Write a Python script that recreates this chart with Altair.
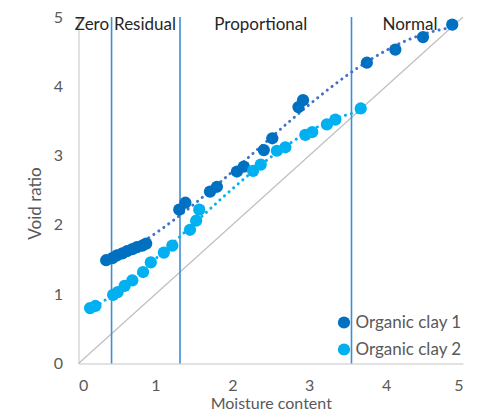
import altair as alt
import pandas as pd

# Organic clay 1 (moisture content, void ratio)
clay1_x = [0.36, 0.44, 0.50, 0.57, 0.63, 0.70, 0.76, 0.83, 0.88, 1.31, 1.39, 1.71, 1.80,
           2.06, 2.15, 2.41, 2.52, 2.86, 2.92, 3.75, 4.12, 4.48, 4.86]
clay1_y = [1.49, 1.52, 1.56, 1.59, 1.62, 1.65, 1.68, 1.70, 1.73, 2.22, 2.32, 2.48, 2.55,
           2.77, 2.84, 3.08, 3.25, 3.70, 3.80, 4.34, 4.53, 4.71, 4.89]
# Organic clay 2
clay2_x = [0.15, 0.22, 0.45, 0.51, 0.60, 0.70, 0.84, 0.94, 1.11, 1.22, 1.45, 1.53, 1.57,
           2.27, 2.37, 2.58, 2.69, 2.95, 3.04, 3.23, 3.34, 3.67]
clay2_y = [0.80, 0.83, 0.99, 1.03, 1.12, 1.20, 1.32, 1.46, 1.60, 1.70, 1.93, 2.06, 2.22,
           2.78, 2.87, 3.07, 3.12, 3.30, 3.34, 3.45, 3.52, 3.68]

series_names = ["Organic clay 1", "Organic clay 2"]
series_colors = ["#0070C0", "#00B0F0"]
trend_colors = ["#4472C4", "#00B0F0"]

zone_bounds = [0.43, 1.32, 3.55]
zone_names = ["Zero", "Residual", "Proportional", "Normal"]
zone_label_x = [0.175, 0.865, 2.37, 4.31]
zone_label_y = [4.81, 4.81, 4.81, 4.81]

diag_x = [0, 5]
diag_y = [0, 5]

pts = pd.DataFrame({
    "x": clay1_x + clay2_x,
    "y": clay1_y + clay2_y,
    "series": [series_names[0]] * len(clay1_x) + [series_names[1]] * len(clay2_x),
})
bounds = pd.DataFrame({"x": zone_bounds})
labels = pd.DataFrame({"x": zone_label_x, "y": zone_label_y, "t": zone_names})
diag = pd.DataFrame({"x": diag_x, "y": diag_y})

FONT = "Lato"
FS = 17
xs = alt.Scale(domain=[0, 5], nice=False)
ys = alt.Scale(domain=[0, 5], nice=False)

xaxis = alt.Axis(values=[0, 1, 2, 3, 4, 5], format="d", title="Moisture content", grid=False,
                 ticks=False, domainColor="#D9D9D9", domainWidth=1.5, labelColor="#595959",
                 labelFontSize=16, labelFont=FONT, labelPadding=14, titleFont=FONT,
                 titleFontSize=16, titleColor="#595959", titleFontWeight="normal",
                 titleBaseline="bottom", titleY=48)
yaxis = alt.Axis(values=[0, 1, 2, 3, 4, 5], format="d", title="Void ratio", grid=False,
                 ticks=False, domainColor="#D9D9D9", domainWidth=1.5, labelColor="#595959",
                 labelFontSize=16, labelFont=FONT, labelPadding=16, titleFont=FONT,
                 titleFontSize=FS, titleColor="#595959", titleFontWeight="normal",
                 titlePadding=9, titleY=186)

diag_layer = alt.Chart(diag).mark_line(color="#BFBFBF", strokeWidth=1.2).encode(
    x=alt.X("x:Q", scale=xs, axis=xaxis), y=alt.Y("y:Q", scale=ys, axis=yaxis))

rules = alt.Chart(bounds).mark_rule(color="#3F8ED4", strokeWidth=1.6).encode(x=alt.X("x:Q", scale=xs))

text = alt.Chart(labels).mark_text(font=FONT, fontSize=FS, color="#262626", baseline="alphabetic").encode(
    x=alt.X("x:Q", scale=xs), y=alt.Y("y:Q", scale=ys), text="t:N")

trend = alt.Chart(pts).transform_regression(
    "x", "y", groupby=["series"], method="poly", order=3
).mark_line(strokeDash=[0.1, 6], strokeWidth=3, strokeCap="round").encode(
    x=alt.X("x:Q", scale=xs), y=alt.Y("y:Q", scale=ys),
    color=alt.Color("series:N", scale=alt.Scale(domain=series_names, range=trend_colors), legend=None),
    detail="series:N")

points = alt.Chart(pts).mark_circle(size=150, opacity=1).encode(
    x=alt.X("x:Q", scale=xs), y=alt.Y("y:Q", scale=ys),
    fill=alt.Fill("series:N", scale=alt.Scale(domain=series_names, range=series_colors),
                  legend=alt.Legend(title=None, orient="none", legendX=257, legendY=297,
                                    symbolType="circle", symbolSize=150, labelFont=FONT,
                                    labelFontSize=FS, labelColor="#595959", labelOffset=3,
                                    rowPadding=9)))

chart = alt.layer(diag_layer, rules, trend, points, text).resolve_scale(
    color="independent").properties(
    width=384.5, height=346.5,
    autosize=alt.AutoSizeParams(type="none"),
    padding={"left": 70.5, "top": 9, "right": 29, "bottom": 48.5},
).configure_view(stroke=None)

chart.save("out.html", embed_options={"renderer": "svg", "actions": False})
